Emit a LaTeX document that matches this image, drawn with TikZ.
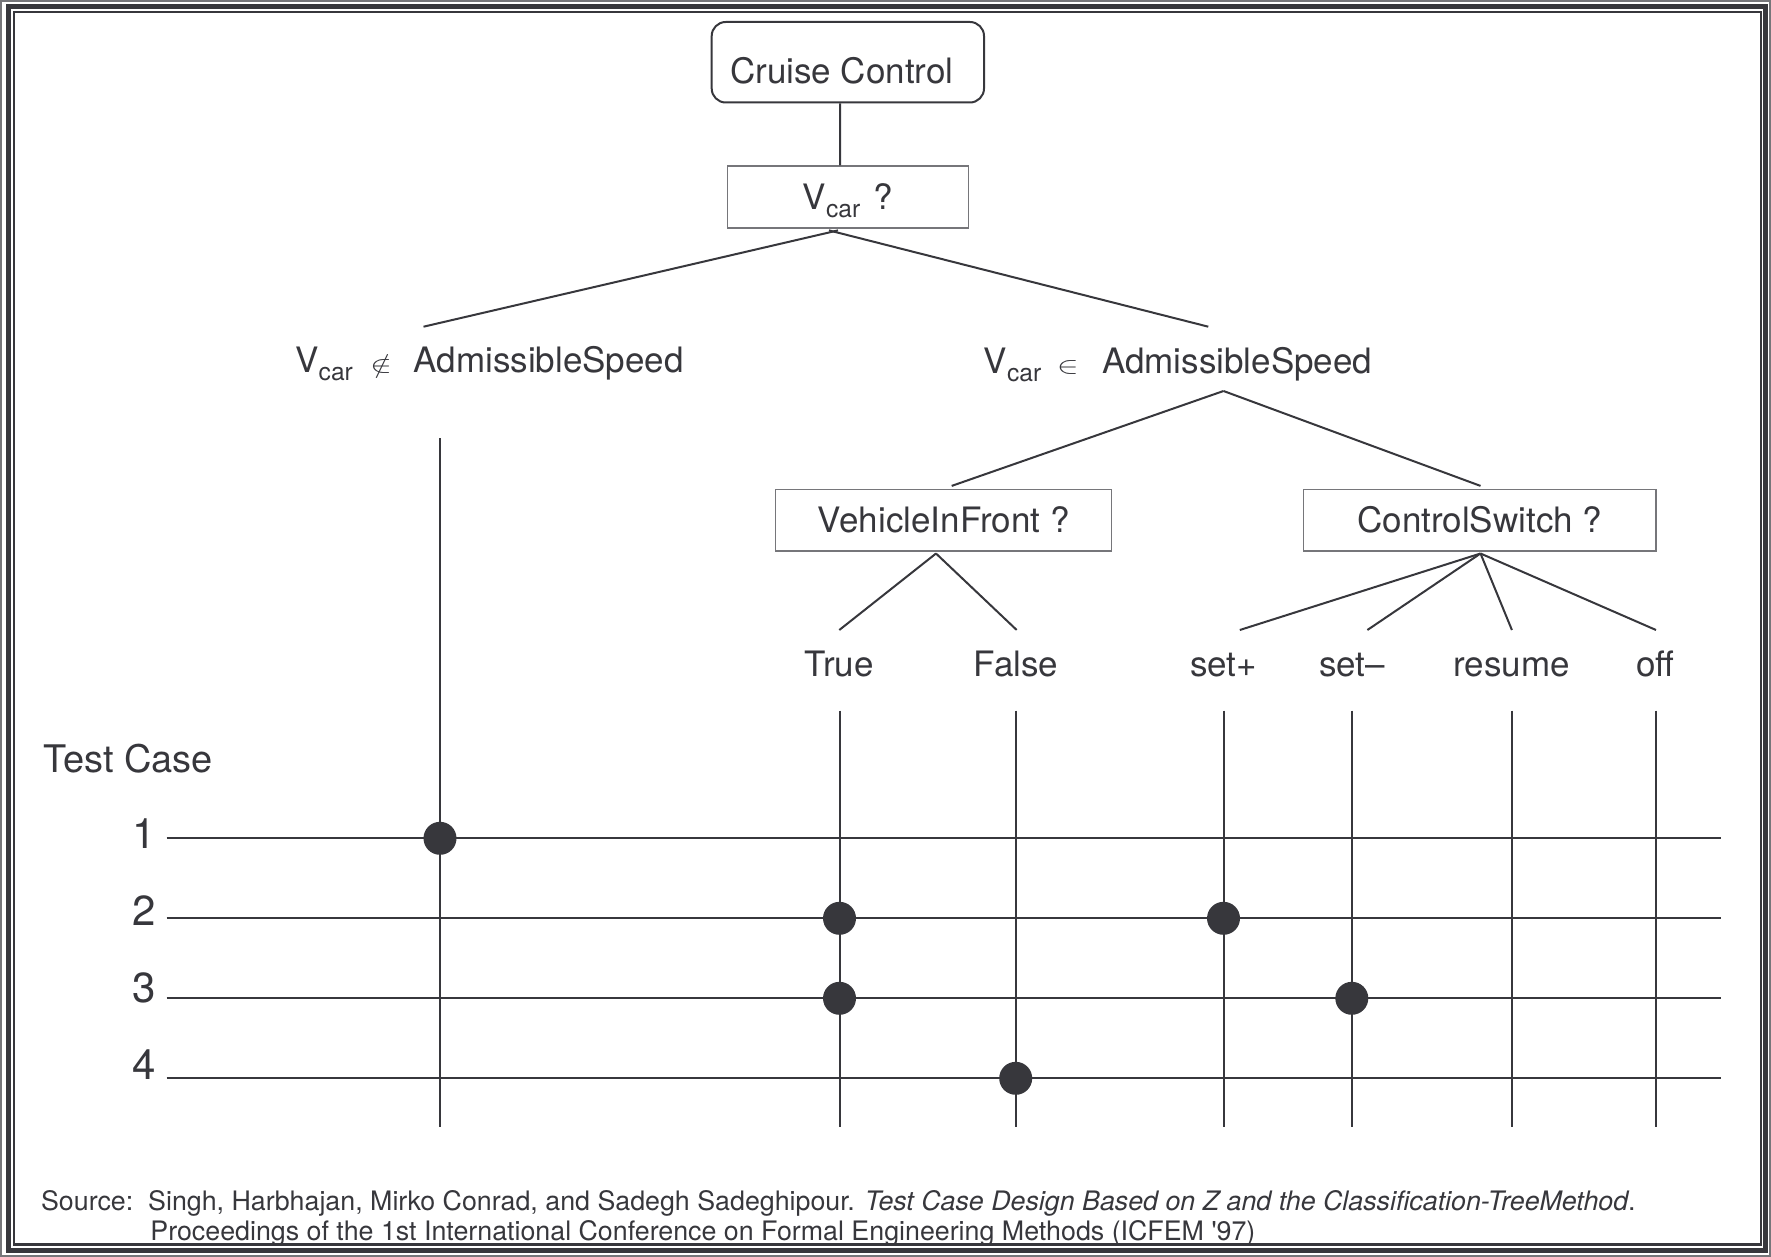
\documentclass[tikz,border=0pt]{standalone}
\usepackage{fontspec}
\setmainfont{TeX Gyre Heros}
\usepackage{graphicx}
\definecolor{ink}{RGB}{55,55,60}
\definecolor{boxgray}{RGB}{118,118,122}
\newcommand\Vc{V\raisebox{-4pt}{\fontsize{12.3}{14}\selectfont car}}
\newcommand\elsym[1]{{\fontsize{12}{14}\selectfont\scalebox{1.35}[1]{$#1$}}}
\begin{document}
\begin{tikzpicture}[x=0.5pt,y=-0.5pt,
  every node/.style={inner sep=0pt, text=ink},
  labeltxt/.style={font=\fontsize{17.5}{20}\selectfont},
  cbox/.style={labeltxt, draw=ink, line width=1pt, rounded corners=7pt,
    minimum width=136.15pt, minimum height=40.25pt, text height=20.8pt, text depth=0pt},
  qbox/.style={labeltxt, draw=boxgray, line width=0.75pt,
    minimum height=30.9pt, text depth=0pt},
  leaftxt/.style={labeltxt, anchor=base},
  numtxt/.style={font=\fontsize{21}{24}\selectfont, anchor=base east},
  srctxt/.style={font=\fontsize{13.4}{16}\selectfont, anchor=base west},
  treeline/.style={draw=ink, line width=1pt},
  gridline/.style={draw=ink, line width=1pt},
  tcdot/.style={circle, fill=ink, minimum size=16.5pt, inner sep=0pt}
]
\useasboundingbox (0,0) rectangle (1771,1257);
% frame
\draw[boxgray, line width=0.75pt] (1,1) rectangle (1770,1256);
\draw[ink, line width=2.3pt] (8.5,6.5) rectangle (1765.5,1250.5);
\draw[ink, line width=1.2pt] (14,12) rectangle (1761,1244.3);

% tree nodes
\node[cbox] (cc) at (847.85,62.25) {\hspace*{-6pt}Cruise Control};
\node[qbox, minimum width=120.5pt, text height=12.85pt] (vq) at (847.8,197.15) {\Vc\hspace{6.5pt}?};
\node[labeltxt, anchor=base west] (nin) at (295,372)
  {\makebox[37.5pt][l]{\Vc}\makebox[21.7pt][l]{\elsym{\notin}}AdmissibleSpeed};
\node[labeltxt, anchor=base west] (in) at (983.3,373.5)
  {\makebox[36.7pt][l]{\Vc}\makebox[22.6pt][l]{\elsym{\in}}AdmissibleSpeed};
\node[qbox, minimum width=168pt, text height=12.6pt] (vif) at (943.7,520.15) {VehicleInFront ?};
\node[qbox, minimum width=176.3pt, text height=12.6pt] (cs) at (1479.7,520.15) {ControlSwitch ?};

\node[leaftxt] (lt) at (839.3,676) {True};
\node[leaftxt] (lf) at (1016,676) {False};
\node[leaftxt] (lsp) at (1223.6,676) {set+};
\node[leaftxt] (lsm) at (1352,676) {set\textendash};
\node[leaftxt] (lres) at (1511.5,676) {resume};
\node[leaftxt] (loff) at (1655.4,676) {off};

% connector end points
\coordinate (nin-top) at (423.5,326.7);
\coordinate (in-top) at (1208.3,326.7);
\coordinate (in-bot) at (1223.5,391);
\coordinate (lt-top) at (839.3,630);
\coordinate (lf-top) at (1016.7,630);
\coordinate (lsp-top) at (1239.8,630);
\coordinate (lsm-top) at (1367.4,630);
\coordinate (lres-top) at (1511.9,630);
\coordinate (loff-top) at (1656,630);

% tree connectors
\draw[treeline] ([xshift=-3.9pt]cc.south) -- ([xshift=-3.9pt]vq.north);
\draw[treeline] ([xshift=-4.9pt,yshift=-0.8pt]vq.south) -- (nin-top);
\draw[treeline] ([xshift=-9.4pt,yshift=-0.8pt]vq.south) -- (in-top);
\draw[treeline] (in-bot) -- ([xshift=4pt,yshift=1.3pt]vif.north);
\draw[treeline] (in-bot) -- ([xshift=0.4pt,yshift=1.3pt]cs.north);
\draw[treeline] ([xshift=-3.85pt,yshift=-0.85pt]vif.south) -- (lt-top);
\draw[treeline] ([xshift=-3.85pt,yshift=-0.85pt]vif.south) -- (lf-top);
\foreach \l in {lsp,lsm,lres,loff}
  \draw[treeline] ([xshift=0.4pt,yshift=-0.85pt]cs.south) -- (\l-top);

% test case table
\node[font=\fontsize{19}{22}\selectfont, anchor=base west] (tc) at (43.3,772.3) {Test Case};
\node[numtxt] (n1) at (156,848.5) {1};
\node[numtxt] (n2) at (156,925.5) {2};
\node[numtxt] (n3) at (156,1002.5) {3};
\node[numtxt] (n4) at (156,1079.5) {4};

\foreach \r/\y in {1/838.3,2/918.3,3/998.3,4/1078.3}{
  \coordinate (r\r w) at (166.7,\y);
  \coordinate (r\r e) at (1720.7,\y);
  \draw[gridline] (r\r w) -- (r\r e);
}
\coordinate (c0t) at (440,438.2);
\coordinate (c0b) at (440,1126.7);
\foreach \c/\x in {1/839.5,2/1015.7,3/1223.5,4/1351.8,5/1511.5,6/1656}{
  \coordinate (c\c t) at (\x,710.5);
  \coordinate (c\c b) at (\x,1126.7);
}
\foreach \c in {0,...,6}
  \draw[gridline] (c\c t) -- (c\c b);

\node[tcdot] (d1) at (c0t |- r1w) {};
\node[tcdot] (d2a) at (c1t |- r2w) {};
\node[tcdot] (d2b) at (c3t |- r2w) {};
\node[tcdot] (d3a) at (c1t |- r3w) {};
\node[tcdot] (d3b) at (c4t |- r3w) {};
\node[tcdot] (d4) at (c2t |- r4w) {};

% source
\node[srctxt] (src1) at (40.7,1210.5) {Source:\ \ Singh, Harbhajan, Mirko Conrad, and Sadegh Sadeghipour. \textit{Test Case Design Based on Z and the Classification-TreeMethod}.};
\node[srctxt] (src2) at (150,1240.5) {Proceedings of the 1st International Conference on Formal Engineering Methods (ICFEM \textquotesingle97)};
\end{tikzpicture}
\end{document}
